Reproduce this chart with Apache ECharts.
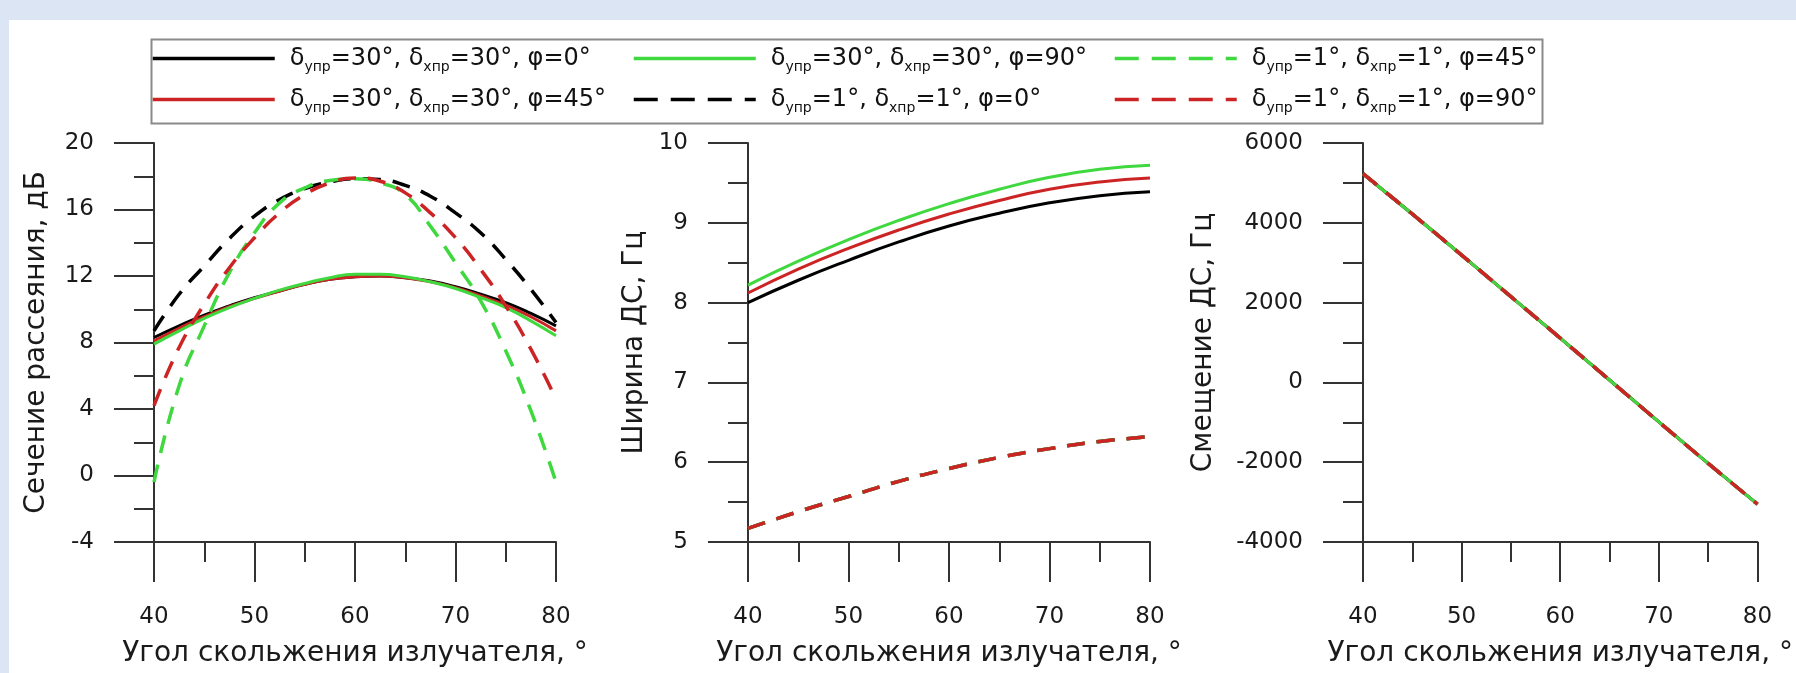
<!DOCTYPE html>
<html><head><meta charset="utf-8">
<script src="https://cdn.jsdelivr.net/npm/echarts@6/dist/echarts.min.js"></script>
<style>
html,body{margin:0;padding:0;background:#dbe5f3;overflow:hidden;}
#panel{position:absolute;left:9px;top:20px;width:1787px;height:653px;background:#ffffff;}
#chart{position:absolute;left:0;top:0;width:1796px;height:673px;}
</style></head><body><div id="panel"></div><div id="chart"></div>
<script>
// ---- series names (legend) ----
const N1 = 'δупр=30°, δхпр=30°, φ=0°';
const N2 = 'δупр=30°, δхпр=30°, φ=45°';
const N3 = 'δупр=30°, δхпр=30°, φ=90°';
const N4 = 'δупр=1°, δхпр=1°, φ=0°';
const N5 = 'δупр=1°, δхпр=1°, φ=45°';
const N6 = 'δупр=1°, δхпр=1°, φ=90°';
const xName = 'Угол скольжения излучателя, °';
const yNames = ['Сечение рассеяния, дБ', 'Ширина ДС, Гц', 'Смещение ДС, Гц'];

// ---- chart 1: scattering cross-section, dB ----
const angleL = [40, 42.5, 45, 47.5, 50, 52.5, 55, 57.5, 60, 62.5, 65, 67.5, 70, 72.5, 75, 77.5, 80];
const rcs30_0  = [8.3, 9.0, 9.65, 10.2, 10.7, 11.1, 11.5, 11.8, 11.95, 12.0, 11.9, 11.7, 11.35, 10.9, 10.4, 9.75, 9.0];
const rcs30_45 = [8.1, 8.85, 9.55, 10.15, 10.65, 11.1, 11.5, 11.8, 11.95, 12.0, 11.9, 11.65, 11.3, 10.8, 10.25, 9.55, 8.7];
const rcs30_90 = [7.9, 8.7, 9.45, 10.1, 10.65, 11.15, 11.55, 11.9, 12.1, 12.1, 11.95, 11.65, 11.25, 10.7, 10.1, 9.3, 8.4];
const rcs1_0   = [8.7, 10.9, 12.6, 14.25, 15.6, 16.6, 17.25, 17.65, 17.85, 17.8, 17.45, 16.8, 15.8, 14.6, 13.0, 11.2, 9.2];
const rcs1_45  = [-0.4, 5.4, 9.0, 12.2, 14.6, 16.4, 17.3, 17.75, 17.85, 17.6, 16.9, 15.0, 12.8, 10.5, 7.5, 3.9, -0.4];
const rcs1_90  = [4.2, 7.7, 10.3, 12.5, 14.3, 15.8, 16.9, 17.6, 17.9, 17.7, 17.0, 15.8, 14.3, 12.4, 10.2, 7.6, 4.6];

// ---- chart 2: Doppler spectrum width, Hz ----
const angleM = [40, 45, 50, 55, 60, 65, 70, 75, 80];
const wid30_0  = [8.00, 8.28, 8.53, 8.76, 8.96, 9.12, 9.25, 9.34, 9.39];
const wid30_45 = [8.12, 8.42, 8.68, 8.91, 9.11, 9.28, 9.42, 9.51, 9.56];
const wid30_90 = [8.22, 8.52, 8.79, 9.03, 9.24, 9.42, 9.57, 9.67, 9.72];
const wid1_all = [5.17, 5.38, 5.57, 5.76, 5.92, 6.06, 6.17, 6.26, 6.32];

// ---- chart 3: Doppler spectrum shift, Hz ----
const angleR = [40, 45, 50, 55, 60, 65, 70, 75, 80];
const shift_all = [5230, 4220, 3190, 2150, 1110, 60, -990, -2030, -3050];

// ---- axis ranges / ticks ----
const yRanges = [
  {min: -4, max: 20, interval: 4},
  {min: 5, max: 10, interval: 1},
  {min: -4000, max: 6000, interval: 2000}
];

const FONT = 'DejaVu Sans';
const AX = '#333333';
const BLACK = '#000000', RED = '#cc2424', GREEN = '#3fd83f';
const DASH = [18, 12];
const LEG_DASH = [24, 13];

const grids = [
  {left: 154, top: 143, width: 402, height: 402},
  {left: 748, top: 143, width: 402, height: 402},
  {left: 1363, top: 143, width: 402, height: 402}
];
const yNameGaps = [103, 99, 145];

function xAxis(gi) {
  return {
    type: 'value', gridIndex: gi, min: 40, max: 80, interval: 10,
    name: xName, nameLocation: 'middle', nameGap: 98,
    nameTextStyle: {fontFamily: FONT, fontSize: 28, color: '#1a1a1a'},
    axisLine: {onZero: false, lineStyle: {color: AX, width: 2}},
    axisTick: {show: true, inside: false, length: 40, lineStyle: {color: AX, width: 2}},
    minorTick: {show: true, splitNumber: 2, length: 20, lineStyle: {color: AX, width: 2}},
    axisLabel: {margin: 64, fontFamily: FONT, fontSize: 23, color: '#1a1a1a', showMinLabel: true, showMaxLabel: true},
    splitLine: {show: false}, minorSplitLine: {show: false}
  };
}
function yAxis(gi) {
  const r = yRanges[gi];
  return {
    type: 'value', gridIndex: gi, min: r.min, max: r.max, interval: r.interval,
    name: yNames[gi], nameLocation: 'middle', nameRotate: 90, nameGap: yNameGaps[gi],
    nameTextStyle: {fontFamily: FONT, fontSize: 28, color: '#1a1a1a'},
    axisLine: {onZero: false, lineStyle: {color: AX, width: 2}},
    axisTick: {show: true, inside: false, length: 40, lineStyle: {color: AX, width: 2}},
    minorTick: {show: true, splitNumber: 2, length: 20, lineStyle: {color: AX, width: 2}},
    axisLabel: {margin: 60, fontFamily: FONT, fontSize: 23, color: '#1a1a1a', formatter: v => String(v),
      showMinLabel: true, showMaxLabel: true},
    splitLine: {show: false}, minorSplitLine: {show: false}
  };
}
function mk(name, gi, xs, ys, color, dashed) {
  return {
    type: 'line', name: name, xAxisIndex: gi, yAxisIndex: gi,
    data: xs.map((x, i) => [x, ys[i]]),
    smooth: true, symbol: 'none', showSymbol: false, clip: false,
    lineStyle: {color: color, width: dashed ? 3.5 : 3, type: dashed ? DASH : 'solid', cap: 'butt'},
    itemStyle: {color: color},
    emphasis: {disabled: true}, animation: false
  };
}

const series = [
  mk(N1, 0, angleL, rcs30_0, BLACK, false),
  mk(N2, 0, angleL, rcs30_45, RED, false),
  mk(N3, 0, angleL, rcs30_90, GREEN, false),
  mk(N4, 0, angleL, rcs1_0, BLACK, true),
  mk(N5, 0, angleL, rcs1_45, GREEN, true),
  mk(N6, 0, angleL, rcs1_90, RED, true),

  mk(N1, 1, angleM, wid30_0, BLACK, false),
  mk(N2, 1, angleM, wid30_45, RED, false),
  mk(N3, 1, angleM, wid30_90, GREEN, false),
  mk(N4, 1, angleM, wid1_all, BLACK, true),
  mk(N5, 1, angleM, wid1_all, GREEN, true),
  mk(N6, 1, angleM, wid1_all, RED, true),

  mk(N1, 2, angleR, shift_all, BLACK, false),
  mk(N2, 2, angleR, shift_all, RED, false),
  mk(N3, 2, angleR, shift_all, GREEN, false),
  mk(N4, 2, angleR, shift_all, BLACK, true),
  mk(N5, 2, angleR, shift_all, GREEN, true),
  mk(N6, 2, angleR, shift_all, RED, true)
];

const legendText = {
  fontFamily: FONT, fontSize: 24, color: '#111111', lineHeight: 31,
  padding: [0, 0, 0, 10],
  rich: {s: {fontFamily: FONT, fontSize: 14, lineHeight: 12, verticalAlign: 'bottom', color: '#111111'}}
};
const legendFmt = name => name.replace(/δ(упр|хпр)/g, 'δ{s|$1}');
function legendCol(left, items) {
  return {
    orient: 'vertical', left: left, top: 43, padding: 0,
    itemWidth: 122, itemHeight: 14, itemGap: 10, selectedMode: false,
    itemStyle: {opacity: 0, borderWidth: 0},
    data: items.map(n => (n === N4 || n === N5 || n === N6)
      ? {name: n, lineStyle: {type: LEG_DASH, width: 3.5}}
      : {name: n, lineStyle: {width: 3.5}}),
    textStyle: legendText, formatter: legendFmt
  };
}

const chart = echarts.init(document.getElementById('chart'), null, {renderer: 'canvas'});
chart.setOption({
  backgroundColor: 'transparent',
  animation: false,
  grid: grids,
  xAxis: [xAxis(0), xAxis(1), xAxis(2)],
  yAxis: [yAxis(0), yAxis(1), yAxis(2)],
  legend: [
    legendCol(151, [N1, N2]),
    legendCol(632, [N3, N4]),
    legendCol(1113, [N5, N6])
  ],
  graphic: [{
    type: 'rect', left: 149, top: 37, silent: true, z: 0,
    shape: {width: 1391, height: 84},
    style: {fill: 'none', stroke: '#8a8a8a', lineWidth: 2}
  }],
  series: series
});
</script></body></html>
